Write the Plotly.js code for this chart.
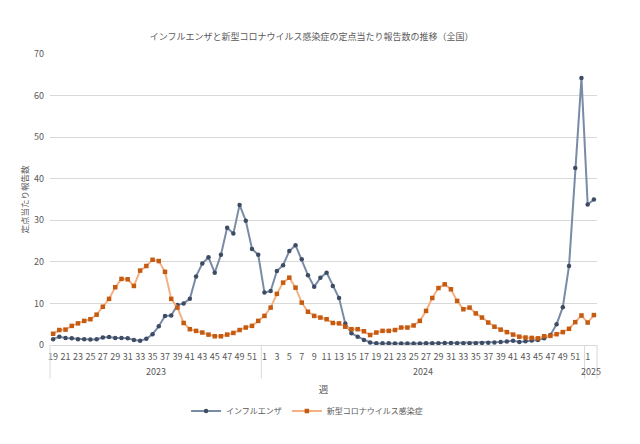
<!DOCTYPE html>
<html><head><meta charset="utf-8">
<script src="https://cdn.plot.ly/plotly-3.0.1.min.js"></script>
<style>html,body{margin:0;padding:0;background:#fff}#chart{width:640px;height:444px}</style>
</head><body><div id="chart"></div>
<script>
const yearLabels = ['2023','2024','2025'];
const weeks2023 = [19,20,21,22,23,24,25,26,27,28,29,30,31,32,33,34,35,36,37,38,39,40,41,42,43,44,45,46,47,48,49,50,51,52];
const weeks2024 = [1,2,3,4,5,6,7,8,9,10,11,12,13,14,15,16,17,18,19,20,21,22,23,24,25,26,27,28,29,30,31,32,33,34,35,36,37,38,39,40,41,42,43,44,45,46,47,48,49,50,51,52];
const weeks2025 = [1,2];
const influenza = [
 1.4,2.0,1.7,1.6,1.4,1.4,1.3,1.4,1.8,1.9,1.7,1.7,1.6,1.2,1.0,1.5,2.6,4.5,7.0,7.1,9.6,10.0,11.1,16.5,19.6,21.1,17.4,21.7,28.2,26.8,33.7,29.9,23.1,21.7,
 12.6,13.0,17.8,19.2,22.6,24.0,20.6,16.8,14.0,16.2,17.4,14.2,11.3,5.2,2.8,2.0,1.2,0.6,0.45,0.4,0.4,0.38,0.36,0.35,0.35,0.37,0.4,0.42,0.44,0.46,0.46,0.45,0.44,0.42,0.45,0.5,0.55,0.6,0.7,0.85,1.0,0.75,0.9,1.1,1.2,1.6,2.4,5.0,9.1,19.0,42.6,64.2,
 33.8,35.0];
const covid = [
 2.7,3.6,3.7,4.6,5.2,5.8,6.2,7.3,9.2,11.1,13.9,15.9,15.8,14.2,17.9,19.0,20.5,20.2,17.6,11.1,9.0,5.3,3.8,3.4,3.0,2.5,2.1,2.1,2.5,2.9,3.6,4.2,4.6,5.8,
 7.0,9.0,12.3,15.0,16.2,13.8,10.2,8.0,7.0,6.6,6.2,5.3,5.2,4.4,3.8,3.8,3.3,2.4,3.0,3.4,3.4,3.6,4.2,4.2,4.7,5.8,8.2,11.3,13.7,14.6,13.4,10.6,8.6,9.0,7.6,6.6,5.4,4.4,3.7,3.1,2.5,2.0,1.8,1.7,1.6,2.1,2.2,2.6,3.1,3.9,5.5,7.1,
 5.4,7.2];
const seriesNames = ['インフルエンザ','新型コロナウイルス感染症'];

const weekGroups = [weeks2023, weeks2024, weeks2025];
const weeks = [].concat(...weekGroups);
const idx = weeks.map((_, i) => i);
const N = weeks.length;
const tickvals = idx.filter(i => i % 2 === 0);
const ticktext = tickvals.map(i => String(weeks[i]));

const font = "'Noto Sans CJK JP', 'Noto Sans', sans-serif";
const gray = '#595959';
const lineGray = '#D9D9D9';

const annotations = [];
const shapes = [];
let start = 0;
const bounds = [0];
weekGroups.forEach((g, k) => {
  const mid = start + (g.length - 1) / 2;
  annotations.push({x: mid, xref: 'x', y: -0.092, yref: 'paper', text: yearLabels[k], showarrow: false,
    font: {family: font, size: 9, color: gray}, yanchor: 'middle'});
  start += g.length;
  bounds.push(start);
});
bounds.forEach(b => {
  shapes.push({type: 'line', xref: 'paper', yref: 'paper', x0: b / N, x1: b / N, y0: 0, y1: -0.115,
    line: {color: lineGray, width: 1}});
});

const traces = [
  {x: idx, y: influenza, name: seriesNames[0], type: 'scatter', mode: 'lines+markers',
   line: {color: '#7A8BA6', width: 2}, marker: {color: '#3E4C63', size: 4.5, symbol: 'circle'}},
  {x: idx, y: covid, name: seriesNames[1], type: 'scatter', mode: 'lines+markers',
   line: {color: '#F4B183', width: 2}, marker: {color: '#C55A11', size: 4.5, symbol: 'square'}}
];

const layout = {
  width: 640, height: 444,
  margin: {l: 50, r: 43, t: 54, b: 99},
  paper_bgcolor: '#fff', plot_bgcolor: '#fff',
  font: {family: font, size: 9, color: gray},
  title: {text: 'インフルエンザと新型コロナウイルス感染症の定点当たり報告数の推移（全国）',
    font: {family: font, size: 9, color: gray}, x: 0.487, xanchor: 'center', y: 0.918, yanchor: 'middle'},
  xaxis: {range: [-0.5, N - 0.5], tickmode: 'array', tickvals: tickvals, ticktext: ticktext,
    showgrid: false, zeroline: false, showline: true, linecolor: lineGray, linewidth: 1,
    ticks: '', tickangle: 0, ticklabelstandoff: 3, tickfont: {family: font, size: 9, color: gray},
    title: {text: '週', font: {family: font, size: 9.5, color: gray}, standoff: 24}},
  yaxis: {range: [0, 70], dtick: 10, showgrid: true, gridcolor: lineGray, gridwidth: 1, zeroline: false,
    showline: false, ticks: '', ticklabelstandoff: 5, tickfont: {family: font, size: 9, color: gray},
    title: {text: '定点当たり報告数', font: {family: font, size: 8.5, color: gray}, standoff: 4}},
  legend: {orientation: 'h', x: 0.47, xanchor: 'center', y: -0.227, yanchor: 'middle',
    font: {family: font, size: 8, color: gray}, itemwidth: 30, tracegroupgap: 0},
  showlegend: true,
  annotations: annotations,
  shapes: shapes
};

Plotly.newPlot('chart', traces, layout, {displayModeBar: false, staticPlot: true});
</script>
</body></html>
